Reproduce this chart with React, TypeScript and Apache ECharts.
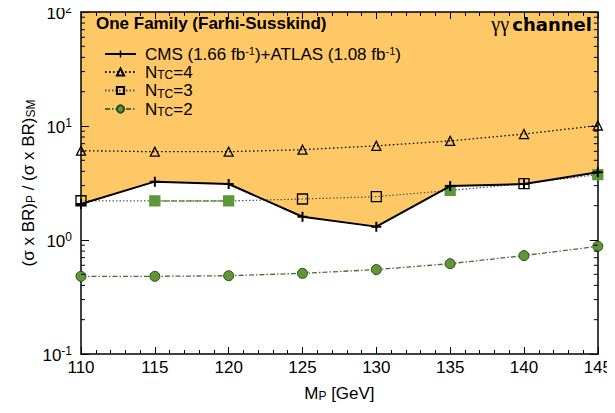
import React, { useEffect, useRef } from "react";
import * as echarts from "echarts";

// ---- data ----
const masses = [110, 115, 120, 125, 130, 135, 140, 145];
const cmsAtlasLimit = [2.07, 3.25, 3.1, 1.6, 1.31, 2.97, 3.1, 3.93];
const ntc4 = [6.07, 5.95, 5.95, 6.2, 6.7, 7.4, 8.5, 10.1];
const ntc3 = [2.21, 2.2, 2.2, 2.29, 2.4, 2.72, 3.12, 3.75];
const ntc2 = [0.48, 0.48, 0.486, 0.51, 0.55, 0.62, 0.73, 0.88];
const yMinorTicks = [
  0.2, 0.3, 0.4, 0.5, 0.6, 0.7, 0.8, 0.9,
  2, 3, 4, 5, 6, 7, 8, 9,
  20, 30, 40, 50, 60, 70, 80, 90,
];

const ORANGE = "#FEC866";
const GREEN = "#5F9737";
const FONT = "Liberation Sans";

const PLUS = "path://M4,0h2v4h4v2h-4v4h-2v-4h-4v-2h4z";

const subRich = {
  n: { fontSize: 17, fontFamily: FONT, color: "#000", lineHeight: 18 },
  sub: { fontSize: 12, fontFamily: FONT, color: "#000", verticalAlign: "bottom", lineHeight: 13, padding: [4, 0, 0, 0] },
  sup: { fontSize: 11, fontFamily: FONT, color: "#000", verticalAlign: "top", lineHeight: 18 },
};

export default function App() {
  const ref = useRef<HTMLDivElement>(null);
  useEffect(() => {
    if (!ref.current) return;
    const chart = echarts.init(ref.current, undefined, { renderer: "svg" });

    const ntc3Data = ntc3.map((v, i) => {
      const allowed = v < cmsAtlasLimit[i];
      return allowed
        ? { value: [masses[i], v], itemStyle: { color: GREEN, borderColor: GREEN } }
        : { value: [masses[i], v] };
    });
    const greenSeg = ntc3.map((v, i) => {
      const a = v < cmsAtlasLimit[i];
      const prev = i > 0 && ntc3[i - 1] < cmsAtlasLimit[i - 1];
      const next = i < ntc3.length - 1 && ntc3[i + 1] < cmsAtlasLimit[i + 1];
      return [masses[i], a && (prev || next) ? v : null];
    });

    const legendNames: Record<string, string> = {
      CMS: "{n|CMS (1.66 fb}{sup|-1}{n|)+ATLAS (1.08 fb}{sup|-1}{n|)}",
      NTC4: "{n|N}{sub|TC}{n|=4}",
      NTC3: "{n|N}{sub|TC}{n|=3}",
      NTC2: "{n|N}{sub|TC}{n|=2}",
    };

    const tickStyle = { color: "#000", width: 1 };

    chart.setOption({
      animation: false,
      grid: { left: 81, right: 11, top: 12, bottom: 59 },
      graphic: [
        {
          type: "text",
          left: 96,
          top: 15,
          z: 100,
          style: {
            text: "One Family (Farhi-Susskind)",
            fontSize: 17,
            fontWeight: "bold",
            fontFamily: FONT,
            fill: "#000",
          },
        },
        {
          type: "text",
          right: 23,
          top: 14,
          z: 100,
          style: {
            text: "{g|γγ} {c|channel}",
            rich: {
              g: { fontSize: 20, fontFamily: "Liberation Serif", fill: "#000", color: "#000" },
              c: { fontSize: 18, fontWeight: "bold", fontFamily: "DejaVu Sans", fill: "#000", color: "#000" },
            },
          },
        },
      ],
      legend: {
        orient: "vertical",
        left: 99,
        top: 40,
        itemWidth: 31,
        itemHeight: 9,
        itemGap: 1,
        data: ["CMS", "NTC4", "NTC3", "NTC2"],
        formatter: (name: string) => legendNames[name],
        textStyle: { rich: subRich, fontFamily: FONT, fontSize: 17, padding: [0, 0, 0, 4] },
      },
      xAxis: [
        {
          type: "value",
          min: 110,
          max: 145,
          interval: 5,
          z: 2,
          axisLine: { show: true, lineStyle: { color: "#000", width: 1.5 } },
          splitLine: { show: false },
          axisTick: { show: true, inside: true, length: 7, lineStyle: tickStyle },
          minorTick: { show: true, splitNumber: 5, length: 4, lineStyle: tickStyle },
          minorSplitLine: { show: false },
          axisLabel: { fontSize: 17, fontFamily: FONT, color: "#000", margin: 5 },
          name: "{n|M}{sub|P}{n| [GeV]}",
          nameLocation: "middle",
          nameGap: 30,
          nameTextStyle: { rich: subRich },
        },
        {
          type: "value",
          position: "top",
          min: 110,
          max: 145,
          interval: 5,
          z: 2,
          axisLine: { show: true, lineStyle: { color: "#000", width: 1.5 } },
          splitLine: { show: false },
          axisTick: { show: true, inside: true, length: 7, lineStyle: tickStyle },
          minorTick: { show: true, splitNumber: 5, length: 4, lineStyle: tickStyle },
          axisLabel: { show: false },
        },
      ],
      yAxis: [
        {
          type: "log",
          logBase: 10,
          min: 0.1,
          max: 100,
          z: 2,
          axisLine: { show: true, lineStyle: { color: "#000", width: 1.5 } },
          splitLine: { show: false },
          axisTick: { show: true, inside: true, length: 8, lineStyle: tickStyle },
          axisLabel: {
            margin: 9,
            formatter: (v: number) => {
              const e = Math.round(Math.log10(v));
              return "{b|10}{s|" + e + "}";
            },
            rich: {
              b: { fontSize: 17, fontFamily: FONT, color: "#000", lineHeight: 19, verticalAlign: "bottom" },
              s: { fontSize: 12, fontFamily: FONT, color: "#000", verticalAlign: "top", lineHeight: 19 },
            },
          },
          name: "{n|(σ x BR)}{sub|P}{n| / (σ x BR)}{sub|SM}",
          nameLocation: "middle",
          nameGap: 44,
          nameMoveOverlap: false,
          nameRotate: 90,
          nameTextStyle: { rich: subRich },
        },
        {
          type: "log",
          logBase: 10,
          min: 0.1,
          max: 100,
          position: "right",
          z: 2,
          axisLine: { show: true, lineStyle: { color: "#000", width: 1.5 } },
          splitLine: { show: false },
          axisTick: { show: true, inside: true, length: 8, lineStyle: tickStyle },
          axisLabel: { show: false },
        },
      ],
      series: [
        {
          name: "excludedArea",
          type: "line",
          data: masses.map((m, i) => [m, cmsAtlasLimit[i]]),
          showSymbol: false,
          lineStyle: { width: 0 },
          areaStyle: { color: ORANGE, opacity: 1, origin: "end" },
          z: 1,
          silent: true,
        },
        {
          name: "yMinorTicks",
          type: "custom",
          clip: false,
          data: yMinorTicks.map((v) => [110, v]),
          renderItem: (params: any, api: any) => {
            const v = api.value(1);
            const l = api.coord([110, v]);
            const r = api.coord([145, v]);
            return {
              type: "group",
              children: [
                { type: "line", shape: { x1: l[0], y1: l[1], x2: l[0] + 4, y2: l[1] }, style: { stroke: "#000", lineWidth: 1 } },
                { type: "line", shape: { x1: r[0], y1: r[1], x2: r[0] - 4, y2: r[1] }, style: { stroke: "#000", lineWidth: 1 } },
              ],
            };
          },
          z: 10,
          silent: true,
        },
        {
          name: "NTC4",
          type: "line",
          data: masses.map((m, i) => [m, ntc4[i]]),
          symbol: "triangle",
          symbolSize: 9,
          itemStyle: { color: "rgba(0,0,0,0)", borderColor: "#000", borderWidth: 1.3 },
          lineStyle: { color: "#000", width: 1.3, type: [1.5, 2.5] },
          z: 3,
        },
        {
          name: "NTC3",
          type: "line",
          data: ntc3Data,
          symbol: "rect",
          symbolSize: 10,
          itemStyle: { color: "rgba(0,0,0,0)", borderColor: "#000", borderWidth: 1.3 },
          lineStyle: { color: "#555", width: 1.2, type: [1.5, 2] },
          z: 3,
        },
        {
          name: "ntc3Allowed",
          type: "line",
          data: greenSeg,
          showSymbol: false,
          connectNulls: false,
          lineStyle: { color: GREEN, width: 1.5, type: [6, 2] },
          z: 3,
          silent: true,
        },
        {
          name: "NTC2",
          type: "line",
          data: masses.map((m, i) => [m, ntc2[i]]),
          symbol: "circle",
          symbolSize: 10,
          itemStyle: { color: GREEN, borderColor: "#2d4a1a", borderWidth: 1 },
          lineStyle: { color: "#4a6e32", width: 1.3, type: [5, 2, 1.5, 2] },
          z: 3,
        },
        {
          name: "CMS",
          type: "line",
          data: masses.map((m, i) => [m, cmsAtlasLimit[i]]),
          symbol: PLUS,
          symbolSize: 10,
          itemStyle: { color: "#000" },
          lineStyle: { color: "#000", width: 2 },
          z: 4,
        },
      ],
    });
    return () => chart.dispose();
  }, []);
  return <div ref={ref} style={{ width: 615, height: 413, margin: -8 }} />;
}
